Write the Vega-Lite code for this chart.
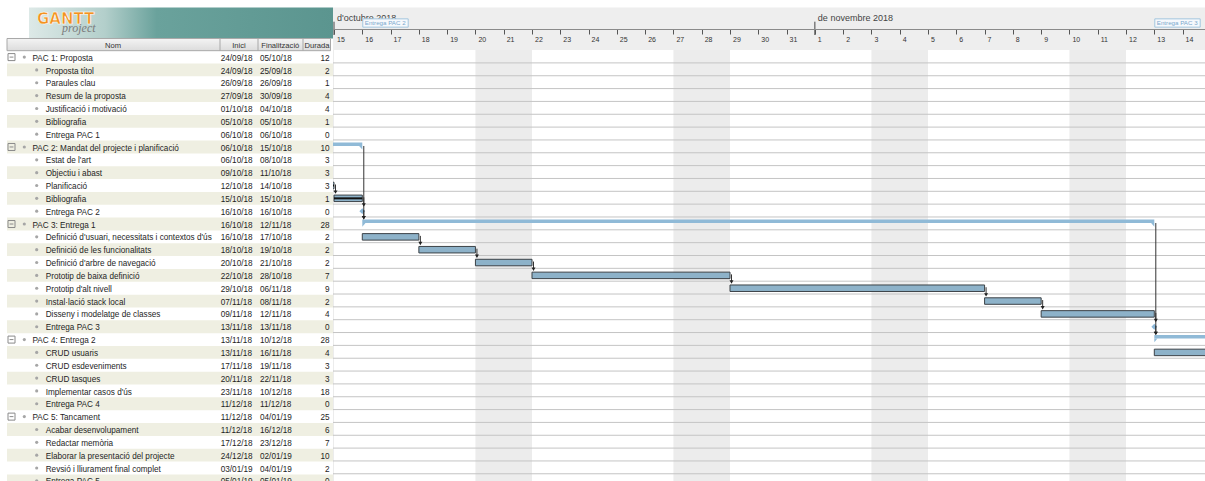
{
  "$schema": "https://vega.github.io/schema/vega-lite/v6.json",
  "background": "white",
  "padding": 0,
  "spacing": 0,
  "bounds": "flush",
  "config": {"view": {"stroke": null}, "axisY": {"disable": true}, "font": "Liberation Sans", "scale": {"continuousPadding": 0}},
  "resolve": {"scale": {"x": "independent", "y": "independent"}},
  "datasets": {
    "tasks": [
      {"row":0,"name":"PAC 1: Proposta","level":0,"inici":"24/09/18","fi":"05/10/18","durada":12,"type":"summary","start":"2018-09-24","end":"2018-10-06","progress":100},
      {"row":1,"name":"Proposta títol","level":1,"inici":"24/09/18","fi":"25/09/18","durada":2,"type":"task","start":"2018-09-24","end":"2018-09-26","progress":100},
      {"row":2,"name":"Paraules clau","level":1,"inici":"26/09/18","fi":"26/09/18","durada":1,"type":"task","start":"2018-09-26","end":"2018-09-27","progress":100},
      {"row":3,"name":"Resum de la proposta","level":1,"inici":"27/09/18","fi":"30/09/18","durada":4,"type":"task","start":"2018-09-27","end":"2018-10-01","progress":100},
      {"row":4,"name":"Justificació i motivació","level":1,"inici":"01/10/18","fi":"04/10/18","durada":4,"type":"task","start":"2018-10-01","end":"2018-10-05","progress":100},
      {"row":5,"name":"Bibliografia","level":1,"inici":"05/10/18","fi":"05/10/18","durada":1,"type":"task","start":"2018-10-05","end":"2018-10-06","progress":100},
      {"row":6,"name":"Entrega PAC 1","level":1,"inici":"06/10/18","fi":"06/10/18","durada":0,"type":"milestone","start":"2018-10-06","end":"2018-10-06","progress":0},
      {"row":7,"name":"PAC 2: Mandat del projecte i planificació","level":0,"inici":"06/10/18","fi":"15/10/18","durada":10,"type":"summary","start":"2018-10-06","end":"2018-10-16","progress":100},
      {"row":8,"name":"Estat de l'art","level":1,"inici":"06/10/18","fi":"08/10/18","durada":3,"type":"task","start":"2018-10-06","end":"2018-10-09","progress":100},
      {"row":9,"name":"Objectiu i abast","level":1,"inici":"09/10/18","fi":"11/10/18","durada":3,"type":"task","start":"2018-10-09","end":"2018-10-12","progress":100},
      {"row":10,"name":"Planificació","level":1,"inici":"12/10/18","fi":"14/10/18","durada":3,"type":"task","start":"2018-10-12","end":"2018-10-15","progress":100},
      {"row":11,"name":"Bibliografia","level":1,"inici":"15/10/18","fi":"15/10/18","durada":1,"type":"task","start":"2018-10-15","end":"2018-10-16","progress":100},
      {"row":12,"name":"Entrega PAC 2","level":1,"inici":"16/10/18","fi":"16/10/18","durada":0,"type":"milestone","start":"2018-10-16","end":"2018-10-16","progress":0},
      {"row":13,"name":"PAC 3: Entrega 1","level":0,"inici":"16/10/18","fi":"12/11/18","durada":28,"type":"summary","start":"2018-10-16","end":"2018-11-13","progress":0},
      {"row":14,"name":"Definició d'usuari, necessitats i contextos d'ús","level":1,"inici":"16/10/18","fi":"17/10/18","durada":2,"type":"task","start":"2018-10-16","end":"2018-10-18","progress":0},
      {"row":15,"name":"Definició de les funcionalitats","level":1,"inici":"18/10/18","fi":"19/10/18","durada":2,"type":"task","start":"2018-10-18","end":"2018-10-20","progress":0},
      {"row":16,"name":"Definició d'arbre de navegació","level":1,"inici":"20/10/18","fi":"21/10/18","durada":2,"type":"task","start":"2018-10-20","end":"2018-10-22","progress":0},
      {"row":17,"name":"Prototip de baixa definició","level":1,"inici":"22/10/18","fi":"28/10/18","durada":7,"type":"task","start":"2018-10-22","end":"2018-10-29","progress":0},
      {"row":18,"name":"Prototip d'alt nivell","level":1,"inici":"29/10/18","fi":"06/11/18","durada":9,"type":"task","start":"2018-10-29","end":"2018-11-07","progress":0},
      {"row":19,"name":"Instal·lació stack local","level":1,"inici":"07/11/18","fi":"08/11/18","durada":2,"type":"task","start":"2018-11-07","end":"2018-11-09","progress":0},
      {"row":20,"name":"Disseny i modelatge de classes","level":1,"inici":"09/11/18","fi":"12/11/18","durada":4,"type":"task","start":"2018-11-09","end":"2018-11-13","progress":0},
      {"row":21,"name":"Entrega PAC 3","level":1,"inici":"13/11/18","fi":"13/11/18","durada":0,"type":"milestone","start":"2018-11-13","end":"2018-11-13","progress":0},
      {"row":22,"name":"PAC 4: Entrega 2","level":0,"inici":"13/11/18","fi":"10/12/18","durada":28,"type":"summary","start":"2018-11-13","end":"2018-12-11","progress":0},
      {"row":23,"name":"CRUD usuaris","level":1,"inici":"13/11/18","fi":"16/11/18","durada":4,"type":"task","start":"2018-11-13","end":"2018-11-17","progress":0},
      {"row":24,"name":"CRUD esdeveniments","level":1,"inici":"17/11/18","fi":"19/11/18","durada":3,"type":"task","start":"2018-11-17","end":"2018-11-20","progress":0},
      {"row":25,"name":"CRUD tasques","level":1,"inici":"20/11/18","fi":"22/11/18","durada":3,"type":"task","start":"2018-11-20","end":"2018-11-23","progress":0},
      {"row":26,"name":"Implementar casos d'ús","level":1,"inici":"23/11/18","fi":"10/12/18","durada":18,"type":"task","start":"2018-11-23","end":"2018-12-11","progress":0},
      {"row":27,"name":"Entrega PAC 4","level":1,"inici":"11/12/18","fi":"11/12/18","durada":0,"type":"milestone","start":"2018-12-11","end":"2018-12-11","progress":0},
      {"row":28,"name":"PAC 5: Tancament","level":0,"inici":"11/12/18","fi":"04/01/19","durada":25,"type":"summary","start":"2018-12-11","end":"2019-01-05","progress":0},
      {"row":29,"name":"Acabar desenvolupament","level":1,"inici":"11/12/18","fi":"16/12/18","durada":6,"type":"task","start":"2018-12-11","end":"2018-12-17","progress":0},
      {"row":30,"name":"Redactar memòria","level":1,"inici":"17/12/18","fi":"23/12/18","durada":7,"type":"task","start":"2018-12-17","end":"2018-12-24","progress":0},
      {"row":31,"name":"Elaborar la presentació del projecte","level":1,"inici":"24/12/18","fi":"02/01/19","durada":10,"type":"task","start":"2018-12-24","end":"2019-01-03","progress":0},
      {"row":32,"name":"Revsió i lliurament final complet","level":1,"inici":"03/01/19","fi":"04/01/19","durada":2,"type":"task","start":"2019-01-03","end":"2019-01-05","progress":0},
      {"row":33,"name":"Entrega PAC 5","level":1,"inici":"05/01/19","fi":"05/01/19","durada":0,"type":"milestone","start":"2019-01-05","end":"2019-01-05","progress":0}
    ],
    "weekends": [
      {"start":"2018-10-13","end":"2018-10-15"},
      {"start":"2018-10-20","end":"2018-10-22"},
      {"start":"2018-10-27","end":"2018-10-29"},
      {"start":"2018-11-03","end":"2018-11-05"},
      {"start":"2018-11-10","end":"2018-11-12"},
      {"start":"2018-11-17","end":"2018-11-19"}
    ],
    "deps": [
      {"x":"2018-10-15","from":10,"to":11},
      {"x":"2018-10-16","from":11,"to":12},
      {"x":"2018-10-16","from":7,"to":13},
      {"x":"2018-10-16","from":12,"to":13},
      {"x":"2018-10-18","from":14,"to":15},
      {"x":"2018-10-20","from":15,"to":16},
      {"x":"2018-10-22","from":16,"to":17},
      {"x":"2018-10-29","from":17,"to":18},
      {"x":"2018-11-07","from":18,"to":19},
      {"x":"2018-11-09","from":19,"to":20},
      {"x":"2018-11-13","from":20,"to":21},
      {"x":"2018-11-13","from":13,"to":22},
      {"x":"2018-11-13","from":21,"to":22}
    ],
    "months": [
      {"x":"2018-10-15","label":"d'octubre 2018"},
      {"x":"2018-11-01","label":"de novembre 2018"}
    ]
  },
  "hconcat": [
    {
      "width": 333,
      "height": 481,
      "data": {"name": "tasks"},
      "layer": [
        {
          "transform": [{"filter": "datum.row % 2 == 1"}],
          "mark": {"type": "bar", "size": 12.84, "color": "#efefe2"},
          "encoding": {
            "x": {"datum": 7, "type": "quantitative", "scale": {"domain": [0, 333], "nice": false, "zero": false, "padding": 0}, "axis": null},
            "x2": {"datum": 333},
            "y": {"field": "row", "type": "quantitative", "scale": {"domain": [-4.447, 33.014], "reverse": true, "nice": false, "zero": false, "padding": 0}, "axis": null}
          }
        },
        {
          "data": {"values": [{}]},
          "mark": {"type": "rect", "fill": {"gradient": "linear", "x1": 0, "y1": 0, "x2": 1, "y2": 0, "stops": [{"offset": 0, "color": "#dde9e7"}, {"offset": 0.25, "color": "#b3cfcb"}, {"offset": 0.42, "color": "#6aa29c"}, {"offset": 1, "color": "#5b958f"}]}},
          "encoding": {
            "x": {"datum": 29, "type": "quantitative"},
            "x2": {"datum": 333},
            "y": {"datum": -3.863, "type": "quantitative"},
            "y2": {"datum": -1.449}
          }
        },
        {
          "data": {"values": [{}]},
          "mark": {"type": "text", "text": "GANTT", "font": "DejaVu Sans", "fontWeight": "bold", "fontSize": 15, "color": "#f39220", "align": "left", "baseline": "alphabetic", "stroke": "white", "strokeWidth": 0.6},
          "encoding": {"x": {"datum": 37, "type": "quantitative"}, "y": {"datum": -2.56, "type": "quantitative"}}
        },
        {
          "data": {"values": [{}]},
          "mark": {"type": "text", "text": "project", "font": "Liberation Serif", "fontStyle": "italic", "fontSize": 12, "color": "#7b7b7b", "align": "left", "baseline": "alphabetic"},
          "encoding": {"x": {"datum": 62, "type": "quantitative"}, "y": {"datum": -1.96, "type": "quantitative"}}
        },
        {
          "data": {"values": [{}]},
          "mark": {"type": "rect", "stroke": "#a8a8a8", "strokeWidth": 1, "fill": {"gradient": "linear", "x1": 0, "y1": 0, "x2": 0, "y2": 1, "stops": [{"offset": 0, "color": "#f4f4f4"}, {"offset": 1, "color": "#dcdcdc"}]}},
          "encoding": {
            "x": {"datum": 7, "type": "quantitative"},
            "x2": {"datum": 330.5},
            "y": {"datum": -1.449, "type": "quantitative"},
            "y2": {"datum": -0.5}
          }
        },
        {
          "data": {"values": [{"c": 220}, {"c": 258}, {"c": 303}]},
          "mark": {"type": "rule", "color": "#a8a8a8", "strokeWidth": 1},
          "encoding": {
            "x": {"field": "c", "type": "quantitative"},
            "y": {"datum": -1.449, "type": "quantitative"},
            "y2": {"datum": -0.5}
          }
        },
        {
          "data": {"values": [{"h": "Nom", "c": 113}, {"h": "Inici", "c": 239}, {"h": "Finalització", "c": 280.3}, {"h": "Durada", "c": 317}]},
          "mark": {"type": "text", "fontSize": 7.6, "color": "#333333", "align": "center", "baseline": "alphabetic", "dy": 3},
          "encoding": {
            "x": {"field": "c", "type": "quantitative"},
            "y": {"datum": -0.973, "type": "quantitative"},
            "text": {"field": "h"}
          }
        },
        {
          "transform": [{"filter": "datum.level == 0"}],
          "mark": {"type": "point", "shape": "M-1,-1H1V1H-1Z M-0.55,0H0.55", "size": 49, "filled": false, "stroke": "#8a8a8a", "strokeWidth": 1, "opacity": 1},
          "encoding": {"x": {"datum": 11.5, "type": "quantitative"}, "y": {"field": "row", "type": "quantitative"}}
        },
        {
          "transform": [{"filter": "datum.level == 0"}],
          "mark": {"type": "point", "shape": "circle", "size": 10, "filled": true, "color": "#a6a6a6", "opacity": 1},
          "encoding": {"x": {"datum": 24.3, "type": "quantitative"}, "y": {"field": "row", "type": "quantitative"}}
        },
        {
          "transform": [{"filter": "datum.level == 1"}],
          "mark": {"type": "point", "shape": "circle", "size": 10, "filled": true, "color": "#a6a6a6", "opacity": 1},
          "encoding": {"x": {"datum": 36.7, "type": "quantitative"}, "y": {"field": "row", "type": "quantitative"}}
        },
        {
          "transform": [{"filter": "datum.level == 0"}],
          "mark": {"type": "text", "fontSize": 8.2, "color": "#1e1e1e", "align": "left", "baseline": "alphabetic", "dy": 3.6},
          "encoding": {"x": {"datum": 32.5, "type": "quantitative"}, "y": {"field": "row", "type": "quantitative"}, "text": {"field": "name"}}
        },
        {
          "transform": [{"filter": "datum.level == 1"}],
          "mark": {"type": "text", "fontSize": 8.2, "color": "#1e1e1e", "align": "left", "baseline": "alphabetic", "dy": 3.6},
          "encoding": {"x": {"datum": 45.7, "type": "quantitative"}, "y": {"field": "row", "type": "quantitative"}, "text": {"field": "name"}}
        },
        {
          "mark": {"type": "text", "fontSize": 8.2, "color": "#1e1e1e", "align": "left", "baseline": "alphabetic", "dy": 3.6},
          "encoding": {"x": {"datum": 220.7, "type": "quantitative"}, "y": {"field": "row", "type": "quantitative"}, "text": {"field": "inici"}}
        },
        {
          "mark": {"type": "text", "fontSize": 8.2, "color": "#1e1e1e", "align": "left", "baseline": "alphabetic", "dy": 3.6},
          "encoding": {"x": {"datum": 260, "type": "quantitative"}, "y": {"field": "row", "type": "quantitative"}, "text": {"field": "fi"}}
        },
        {
          "mark": {"type": "text", "fontSize": 8.2, "color": "#1e1e1e", "align": "right", "baseline": "alphabetic", "dy": 3.6},
          "encoding": {"x": {"datum": 329.5, "type": "quantitative"}, "y": {"field": "row", "type": "quantitative"}, "text": {"field": "durada"}}
        }
      ]
    },
    {
      "width": 872,
      "height": 481,
      "layer": [
        {
          "data": {"values": [{}]},
          "mark": {"type": "rect", "color": "#eeeeee"},
          "encoding": {
            "x": {"value": 0},
            "x2": {"value": "width"},
            "y": {"datum": -3.863, "type": "quantitative", "scale": {"domain": [-4.447, 33.014], "reverse": true, "nice": false, "zero": false, "padding": 0}, "axis": null},
            "y2": {"datum": -0.553}
          }
        },
        {
          "data": {"name": "weekends"},
          "mark": {"type": "rect", "color": "#ececec", "clip": true},
          "encoding": {
            "x": {"field": "start", "type": "temporal", "title": null,
                  "scale": {"type": "utc", "nice": false, "padding": 0, "domain": [{"year": 2018, "month": 10, "date": 14, "hours": 23, "minutes": 9, "utc": true}, {"year": 2018, "month": 11, "date": 14, "hours": 19, "minutes": 1, "utc": true}]},
                  "axis": {"orient": "bottom", "offset": -452, "title": null, "format": "%-d", "tickCount": {"interval": "day", "step": 1}, "labelAlign": "left", "labelBaseline": "top", "labelPadding": 1, "labelOffset": 2.5, "labelFontSize": 7, "labelFont": "Liberation Sans", "labelColor": "#333333", "tickColor": "#555555", "tickSize": 5, "domainColor": "#8a8a8a", "labelOverlap": false, "labelFlush": false, "labelBound": false, "grid": false, "zindex": 1}},
            "x2": {"field": "end"},
            "y": {"datum": -0.553, "type": "quantitative"},
            "y2": {"datum": 33.014}
          }
        },
        {
          "data": {"name": "tasks"},
          "mark": {"type": "rule", "color": "#c4c4c4", "strokeWidth": 1, "yOffset": 5.8},
          "encoding": {
            "x": {"value": 0},
            "x2": {"value": "width"},
            "y": {"field": "row", "type": "quantitative"}
          }
        },
        {
          "data": {"name": "months"},
          "mark": {"type": "rule", "color": "#444444", "strokeWidth": 1, "clip": true},
          "encoding": {
            "x": {"field": "x", "type": "temporal"},
            "y": {"datum": -2.757, "type": "quantitative"},
            "y2": {"datum": -1.721}
          }
        },
        {
          "data": {"name": "months"},
          "mark": {"type": "text", "fontSize": 9, "color": "#444444", "align": "left", "baseline": "alphabetic", "dx": 3, "clip": true},
          "encoding": {
            "x": {"field": "x", "type": "temporal"},
            "y": {"datum": -2.811, "type": "quantitative"},
            "text": {"field": "label"}
          }
        },
        {
          "data": {"name": "tasks"},
          "transform": [{"filter": "datum.type == 'milestone'"}],
          "mark": {"type": "point", "shape": "M0,-0.83H9.08V0.83H0Z", "size": 100, "filled": true, "fill": "#f6f9fc", "stroke": "#a3c6de", "strokeWidth": 1, "opacity": 1, "clip": true, "xOffset": 0.5},
          "encoding": {
            "x": {"field": "start", "type": "temporal"},
            "y": {"datum": -2.656, "type": "quantitative"}
          }
        },
        {
          "data": {"name": "tasks"},
          "transform": [{"filter": "datum.type == 'milestone'"}],
          "mark": {"type": "text", "fontSize": 6.2, "color": "#7aa8cd", "align": "left", "baseline": "middle", "dx": 2.5, "clip": true},
          "encoding": {
            "x": {"field": "start", "type": "temporal"},
            "y": {"datum": -2.656, "type": "quantitative"},
            "text": {"field": "name"}
          }
        },
        {
          "data": {"name": "tasks"},
          "transform": [{"filter": "datum.type == 'summary'"}],
          "mark": {"type": "bar", "size": 3.5, "yOffset": -2.8, "color": "#90bad7", "clip": true},
          "encoding": {
            "x": {"field": "start", "type": "temporal"},
            "x2": {"field": "end"},
            "y": {"field": "row", "type": "quantitative"}
          }
        },
        {
          "data": {"name": "tasks"},
          "transform": [{"filter": "datum.type == 'summary'"}],
          "mark": {"type": "point", "shape": "M0,-0.3H0.9L0,0.75Z", "size": 49, "filled": true, "color": "#90bad7", "opacity": 1, "clip": true},
          "encoding": {
            "x": {"field": "start", "type": "temporal"},
            "y": {"field": "row", "type": "quantitative"}
          }
        },
        {
          "data": {"name": "tasks"},
          "transform": [{"filter": "datum.type == 'summary'"}],
          "mark": {"type": "point", "shape": "M-0.9,-0.3H0V0.75Z", "size": 49, "filled": true, "color": "#90bad7", "opacity": 1, "clip": true},
          "encoding": {
            "x": {"field": "end", "type": "temporal"},
            "y": {"field": "row", "type": "quantitative"}
          }
        },
        {
          "data": {"name": "tasks"},
          "transform": [{"filter": "datum.type == 'task'"}],
          "mark": {"type": "bar", "size": 6.5, "fill": "#8db2c9", "stroke": "#3c4247", "strokeWidth": 1, "clip": true},
          "encoding": {
            "x": {"field": "start", "type": "temporal"},
            "x2": {"field": "end"},
            "y": {"field": "row", "type": "quantitative"}
          }
        },
        {
          "data": {"name": "tasks"},
          "transform": [{"filter": "datum.type == 'task' && datum.progress == 100"}],
          "mark": {"type": "rule", "color": "#111111", "strokeWidth": 2, "clip": true},
          "encoding": {
            "x": {"field": "start", "type": "temporal"},
            "x2": {"field": "end"},
            "y": {"field": "row", "type": "quantitative"}
          }
        },
        {
          "data": {"name": "tasks"},
          "transform": [{"filter": "datum.type == 'milestone'"}],
          "mark": {"type": "point", "shape": "diamond", "size": 34, "filled": true, "color": "#8bb7d8", "opacity": 1, "clip": true},
          "encoding": {
            "x": {"field": "start", "type": "temporal"},
            "y": {"field": "row", "type": "quantitative"}
          }
        },
        {
          "data": {"name": "deps"},
          "mark": {"type": "rule", "color": "#333333", "strokeWidth": 1, "xOffset": 1.5, "yOffset": -1, "y2Offset": -6, "clip": true},
          "encoding": {
            "x": {"field": "x", "type": "temporal"},
            "y": {"field": "from", "type": "quantitative"},
            "y2": {"field": "to"}
          }
        },
        {
          "data": {"name": "deps"},
          "mark": {"type": "point", "shape": "triangle-down", "size": 16, "filled": true, "color": "#222222", "opacity": 1, "xOffset": 1.5, "yOffset": -6.2, "clip": true},
          "encoding": {
            "x": {"field": "x", "type": "temporal"},
            "y": {"field": "to", "type": "quantitative"}
          }
        }
      ]
    }
  ]
}
